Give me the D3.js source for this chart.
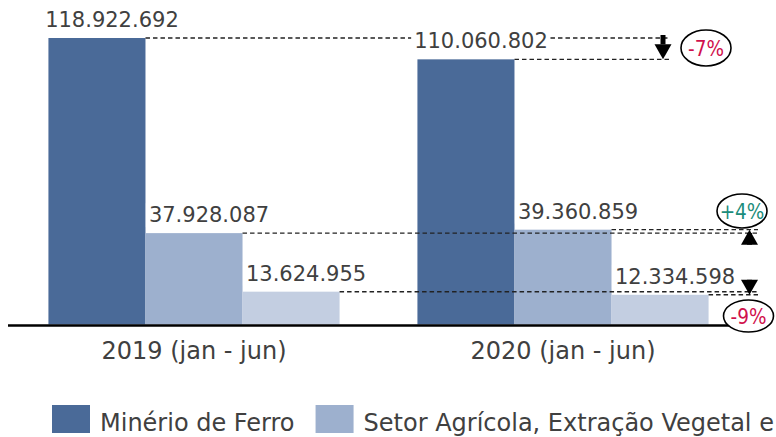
<!DOCTYPE html>
<html>
<head>
<meta charset="utf-8">
<script src="https://cdn.jsdelivr.net/npm/d3@7"></script>
<style>
  body { margin: 0; background: #fff; }
  svg { display: block; font-family: "DejaVu Sans", sans-serif; }
</style>
</head>
<body>
<svg id="chart" width="776" height="437"></svg>
<script>
// dados (jan - jun)
const years = ["2019 (jan - jun)", "2020 (jan - jun)"];
const seriesNames = ["Minério de Ferro", "Setor Agrícola, Extração Vegetal e Silvicultura", "Outros"];
const minerio = [118922692, 110060802];
const agricola = [37928087, 39360859];
const outros = [13624955, 12334598];
const variacao = ["-7%", "+4%", "-9%"];

const series = [minerio, agricola, outros];
const colors = ["#4a6a98", "#9db0ce", "#c3cee1"];
const textColor = "#404040";
const W = 776;

const fmt = d3.formatLocale({decimal: ",", thousands: ".", grouping: [3], currency: ["R$", ""]}).format(",d");

const svg = d3.select("#chart");

const x0 = d3.scaleBand().domain(years).range([9.5, 747.5]).paddingInner(0.211).paddingOuter(0.1055);
const x1 = d3.scaleBand().domain(d3.range(series.length)).range([0, x0.bandwidth()]);
const y = d3.scaleLinear().domain([0, d3.max(minerio)]).range([324.5, 38]);

// barras
series.forEach((vals, i) => {
  svg.append("g").selectAll("rect")
    .data(vals)
    .join("rect")
    .attr("x", (d, j) => x0(years[j]) + x1(i))
    .attr("y", d => y(d))
    .attr("width", x1.bandwidth())
    .attr("height", d => y(0) - y(d))
    .attr("fill", colors[i]);
});

// linhas tracejadas de comparação
const annot = [
  {lineEnd: 670, arrowX: 663, cx: 706, cy: 48, rx: 25, ry: 18, color: "#d0104c"},
  {lineEnd: 758, arrowX: 749.5, cx: 742, cy: 211, rx: 25, ry: 17, color: "#1b8c7a"},
  {lineEnd: 758, arrowX: 749.5, cx: 748.5, cy: 316, rx: 25, ry: 16, color: "#d0104c"}
];

const dashed = svg.append("g")
  .attr("stroke", "#222")
  .attr("stroke-width", 1.4)
  .attr("stroke-dasharray", "4.5,3");

series.forEach((vals, i) => {
  vals.forEach((v, j) => {
    dashed.append("line")
      .attr("x1", x0(years[j]) + x1(i) + x1.bandwidth())
      .attr("x2", annot[i].lineEnd)
      .attr("y1", y(v))
      .attr("y2", y(v));
  });
});

// eixo
svg.append("line")
  .attr("x1", 8).attr("x2", 758)
  .attr("y1", 325.5).attr("y2", 325.5)
  .attr("stroke", "#000")
  .attr("stroke-width", 2.6);

// rótulos de valor
series.forEach((vals, i) => {
  vals.forEach((v, j) => {
    const g = svg.append("g");
    const t = g.append("text")
      .attr("x", x0(years[j]) + x1(i) + x1.bandwidth() / 2 + 15)
      .attr("y", y(v) - 11)
      .attr("text-anchor", "middle")
      .attr("font-size", 21)
      .attr("fill", textColor)
      .text(fmt(v));
    const b = t.node().getBBox();
    g.insert("rect", "text")
      .attr("x", b.x - 3).attr("y", b.y)
      .attr("width", b.width + 4).attr("height", b.height)
      .attr("fill", "#fff");
  });
});

// categorias
svg.append("g").selectAll("text")
  .data(years)
  .join("text")
  .attr("x", d => x0(d) + x0.bandwidth() / 2)
  .attr("y", 359)
  .attr("text-anchor", "middle")
  .attr("font-size", 24)
  .attr("fill", textColor)
  .text(d => d);

// setas e variação
series.forEach((vals, i) => {
  const a = annot[i];
  const yStart = y(vals[0]), yEnd = y(vals[1]);
  const dir = yEnd > yStart ? 1 : -1;
  const head = 15;
  const stemTop = dir > 0 ? yStart - 3 : yStart;
  svg.append("line")
    .attr("x1", a.arrowX).attr("x2", a.arrowX)
    .attr("y1", stemTop).attr("y2", yEnd - dir * head)
    .attr("stroke", "#000").attr("stroke-width", 5);
  svg.append("path")
    .attr("d", `M${a.arrowX - 8.5},${yEnd - dir * head} L${a.arrowX + 8.5},${yEnd - dir * head} L${a.arrowX},${yEnd} Z`)
    .attr("fill", "#000");

  svg.append("ellipse")
    .attr("cx", a.cx).attr("cy", a.cy)
    .attr("rx", a.rx).attr("ry", a.ry)
    .attr("fill", "#fff")
    .attr("stroke", "#000")
    .attr("stroke-width", 1.6);
  svg.append("text")
    .attr("x", a.cx).attr("y", a.cy + 7.5)
    .attr("text-anchor", "middle")
    .attr("font-family", "'DejaVu Sans Condensed', 'DejaVu Sans', sans-serif")
    .attr("font-size", 20.5)
    .attr("fill", a.color)
    .text(variacao[i]);
});

// legenda
let lx = 52;
seriesNames.forEach((name, i) => {
  if (lx >= W) return;
  svg.append("rect")
    .attr("x", lx).attr("y", 405)
    .attr("width", 38).attr("height", 28)
    .attr("fill", colors[i]);
  const t = svg.append("text")
    .attr("x", lx + 48).attr("y", 431)
    .attr("font-size", 24)
    .attr("fill", textColor)
    .text(name);
  lx += 48 + t.node().getComputedTextLength() + 21;
});
</script>
</body>
</html>
